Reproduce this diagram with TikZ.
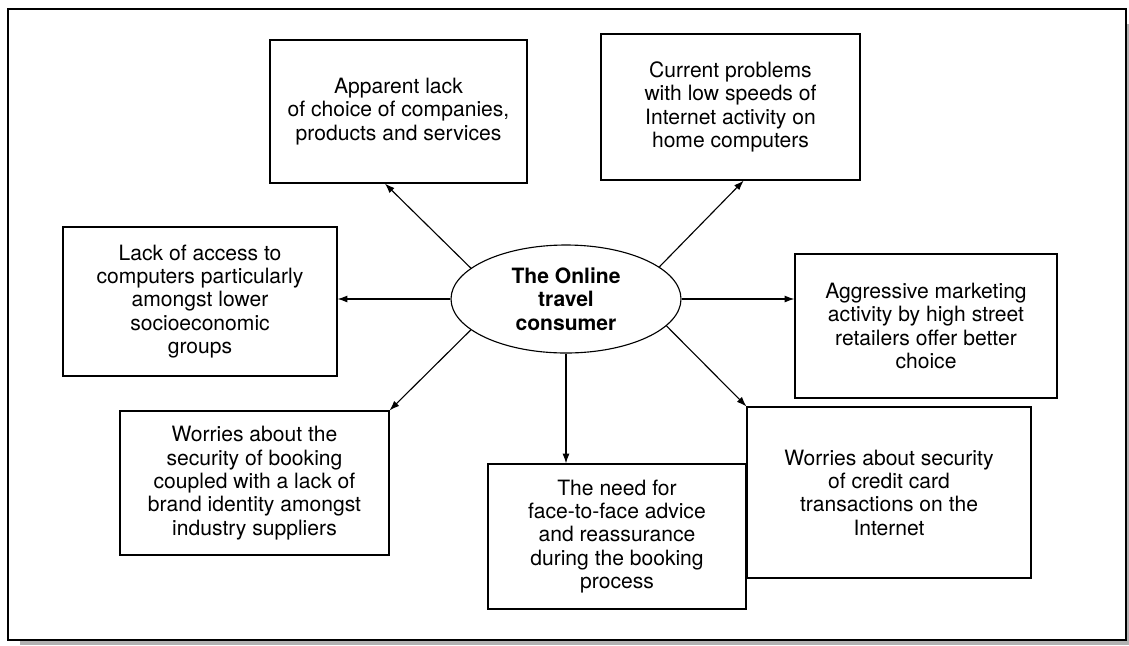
\documentclass[tikz,border=0pt]{standalone}
\usepackage{fontspec}
\setmainfont{TeX Gyre Heros}
\usetikzlibrary{shapes.geometric,arrows.meta}

\begin{document}
\begin{tikzpicture}[
  every node/.style={font=\fontsize{15}{16.6}\selectfont, align=center},
  box/.style={draw, line width=0.8pt, inner sep=0pt},
  arr/.style={-{Latex[length=7pt,width=5pt]}, line width=0.8pt}]
 \useasboundingbox (0,0) rectangle (28.225,-16.125);
 % frame with its shadow
 \fill[gray!60] (0.5,-0.6) rectangle (28.225,-16.125);
 \draw[fill=white, line width=1pt] (0.2,-0.225) rectangle (28.15,-16.0);
 % centre and the boxes round it
 \node[draw, ellipse, line width=0.8pt, inner sep=0pt, minimum width=5.75cm, minimum height=2.7cm,
       font=\fontsize{15}{16.6}\selectfont\bfseries] (ell) at (14.15,-7.475) {The Online\\travel\\consumer};
 \node[box, minimum width=6.425cm, minimum height=3.575cm] (apparent) at (9.9625,-2.7875)
   {Apparent lack\\of choice of companies,\\products and services};
 \node[box, minimum width=6.475cm, minimum height=3.65cm] (speeds) at (18.2625,-2.675)
   {Current problems\\with low speeds of\\Internet activity on\\home computers};
 \node[box, minimum width=6.85cm, minimum height=3.725cm] (access) at (5.0,-7.5375)
   {Lack of access to\\computers particularly\\amongst lower\\socioeconomic\\groups};
 \node[box, minimum width=6.55cm, minimum height=3.6cm] (marketing) at (23.15,-8.15)
   {Aggressive marketing\\activity by high street\\retailers offer better\\choice};
 \node[box, minimum width=6.725cm, minimum height=3.6cm] (booking) at (6.3625,-12.075)
   {Worries about the\\security of booking\\coupled with a lack of\\brand identity amongst\\industry suppliers};
 \node[box, minimum width=6.45cm, minimum height=3.625cm] (advice) at (15.425,-13.4125)
   {The need for\\face-to-face advice\\and reassurance\\during the booking\\process};
 \node[box, minimum width=7.1cm, minimum height=4.275cm] (credit) at (22.225,-12.3125)
   {Worries about security\\of credit card\\transactions on the\\Internet};
 % arrows out of the centre
 \draw[arr] (ell.162) -- ([xshift=-0.34cm]apparent.south);
 \draw[arr] (ell.19) -- ([xshift=0.33cm]speeds.south);
 \draw[arr] (ell.west) -- (ell.west -| access.east);
 \draw[arr] (ell.east) -- (ell.east -| marketing.west);
 \draw[arr] (ell.198) -- (booking.north east);
 \draw[arr] (ell.south) -- (ell.south |- advice.north);
 \draw[arr] (ell.345) -- (credit.north west);
\end{tikzpicture}
\end{document}
